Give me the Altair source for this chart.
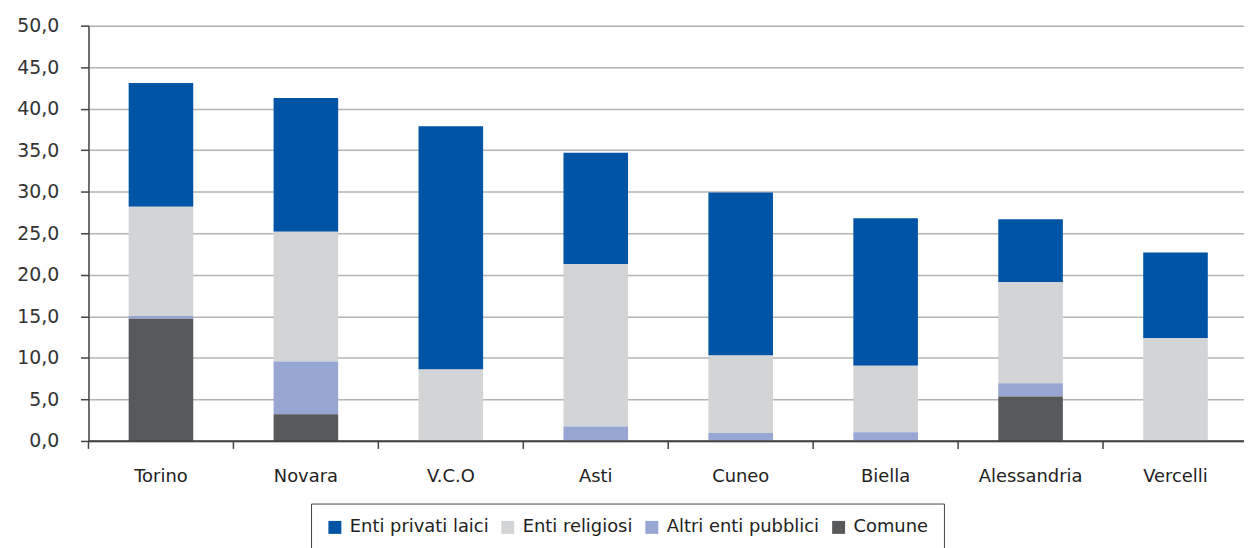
import altair as alt
import pandas as pd

categories = ["Torino", "Novara", "V.C.O", "Asti", "Cuneo", "Biella", "Alessandria", "Vercelli"]
series = ["Enti privati laici", "Enti religiosi", "Altri enti pubblici", "Comune"]
colors = ["#0054A5", "#D3D4D6", "#97A6D2", "#58595B"]

comune = [14.7, 3.2, 0.0, 0.0, 0.0, 0.0, 5.35, 0.0]
altri = [0.35, 6.35, 0.0, 1.75, 0.95, 1.05, 1.6, 0.0]
religiosi = [13.15, 15.65, 8.6, 19.55, 9.35, 8.0, 12.15, 12.4]
privati = [14.9, 16.1, 29.3, 13.4, 19.6, 17.75, 7.6, 10.3]

values = {
    "Enti privati laici": privati,
    "Enti religiosi": religiosi,
    "Altri enti pubblici": altri,
    "Comune": comune,
}
stack_rank = {"Comune": 0, "Altri enti pubblici": 1, "Enti religiosi": 2, "Enti privati laici": 3}

rows = []
for s in series:
    for c, v in zip(categories, values[s]):
        rows.append({"cat": c, "serie": s, "val": v, "rank": stack_rank[s]})
df = pd.DataFrame(rows)
cat_df = pd.DataFrame({"cat": categories})

FONT = "DejaVu Sans"
W = 1163
STEP = 145.875
RANGE_W = STEP * len(categories)
P_IN = 1 - 65 / STEP

x_scale = alt.Scale(domain=categories, range=[0, RANGE_W], paddingInner=P_IN,
                    paddingOuter=P_IN / 2, round=False)
x_axis = alt.Axis(labelAngle=0, ticks=False, labelPadding=27, labelFontSize=18,
                  labelColor="#222222", labelFont=FONT, domainColor="#444444",
                  domainWidth=1.5, grid=False)

bars = alt.Chart(df).mark_bar().encode(
    x=alt.X("cat:N", sort=categories, scale=x_scale, title=None, axis=x_axis),
    y=alt.Y("val:Q", stack="zero", title=None,
            scale=alt.Scale(domain=[0, 50], nice=False),
            axis=alt.Axis(values=list(range(0, 51, 5)),
                          labelExpr="replace(format(datum.value, '.1f'), '.', ',')",
                          labelFontSize=19, labelFont=FONT, labelColor="#333333",
                          labelPadding=22, tickSize=8, tickColor="#444444", tickWidth=1.5,
                          domainColor="#444444", domainWidth=1.5,
                          gridColor="#B4B4B4", gridWidth=1.5)),
    color=alt.Color("serie:N", scale=alt.Scale(domain=series, range=colors),
                    legend=alt.Legend(title=None, orient="none", legendX=224, legendY=481,
                                      direction="horizontal", columns=4,
                                      symbolType="square", symbolSize=170,
                                      symbolStrokeWidth=0, symbolOpacity=1,
                                      labelFontSize=18, labelFont=FONT, labelColor="#222222",
                                      labelOffset=6, columnPadding=10,
                                      strokeColor="#444444", padding=15)),
    order=alt.Order("rank:Q", sort="ascending"),
)

ticks = alt.Chart(cat_df).mark_rule(color="#444444", strokeWidth=1.5,
                                    xOffset=-P_IN * STEP / 2).encode(
    x=alt.X("cat:N", sort=categories, scale=x_scale, bandPosition=0, title=None, axis=x_axis),
    y=alt.value(418),
    y2=alt.value(426),
)

# x-axis baseline across the full plot width
baseline = alt.Chart(cat_df.head(1)).mark_rule(color="#444444", strokeWidth=1.5).encode(
    x=alt.value(0), x2=alt.value(W), y=alt.value(418),
)

chart = alt.layer(bars, ticks, baseline).properties(
    width=W,
    height=418,
    autosize=alt.AutoSizeParams(type="none"),
    padding={"left": 81, "top": 16, "right": 0, "bottom": 106},
).configure_view(stroke=None).configure(background="white")

chart.save("out.html", embed_options={"renderer": "svg", "actions": False})
